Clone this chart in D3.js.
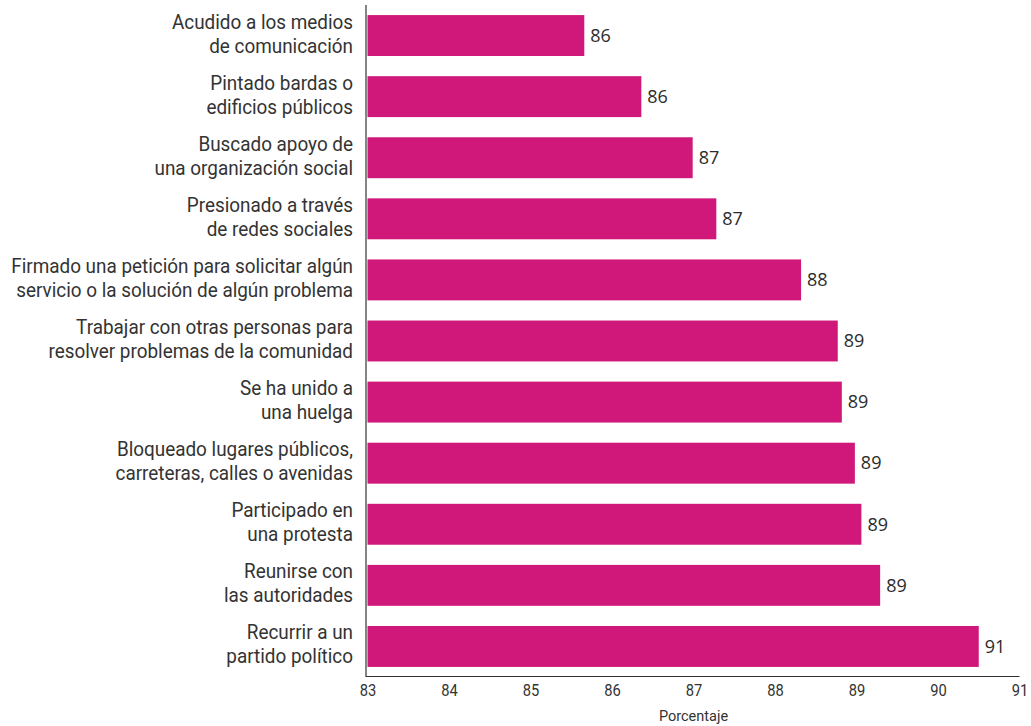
<!DOCTYPE html>
<html>
<head>
<meta charset="utf-8">
<script src="https://cdn.jsdelivr.net/npm/d3@7"></script>
<style>
  html, body { margin: 0; padding: 0; background: #fff; }
  svg { display: block; }
  .cat { font-family: Roboto, sans-serif; font-size: 20px; fill: #333; }
  .val { font-family: "Open Sans", sans-serif; font-size: 18px; fill: #2b2b2b; }
  .tick text { font-family: Roboto, sans-serif; font-size: 16px; fill: #333; }
  .xtitle { font-family: Roboto, sans-serif; font-size: 14.5px; fill: #333; }
</style>
</head>
<body>
<svg id="chart" width="1031" height="726"></svg>
<script>
// Actions, each split into the lines shown beside its bar
const categories = [
  ["Acudido a los medios", "de comunicación"],
  ["Pintado bardas o", "edificios públicos"],
  ["Buscado apoyo de", "una organización social"],
  ["Presionado a través", "de redes sociales"],
  ["Firmado una petición para solicitar algún", "servicio o la solución de algún problema"],
  ["Trabajar con otras personas para", "resolver problemas de la comunidad"],
  ["Se ha unido a", "una huelga"],
  ["Bloqueado lugares públicos,", "carreteras, calles o avenidas"],
  ["Participado en", "una protesta"],
  ["Reunirse con", "las autoridades"],
  ["Recurrir a un", "partido político"]
];

// Percentage for each action
const values = [85.66, 86.36, 86.99, 87.28, 88.32, 88.77, 88.82, 88.98, 89.06, 89.29, 90.5];

const xTicks = [83, 84, 85, 86, 87, 88, 89, 90, 91];
const xTitle = "Porcentaje";

const svg = d3.select("#chart");

const x = d3.scaleLinear().domain([83, 91]).range([367.5, 1019.5]);
const y = d3.scaleBand()
  .domain(d3.range(categories.length))
  .range([5, 677])
  .paddingInner(0.33)
  .paddingOuter(0.165);

const fmt = d3.format(".0f");

// Bars
svg.append("g").selectAll("rect")
  .data(values)
  .join("rect")
  .attr("x", x(83))
  .attr("y", (d, i) => y(i))
  .attr("width", d => x(d) - x(83))
  .attr("height", y.bandwidth())
  .attr("fill", "#d0187b");

// Value labels
svg.append("g").selectAll("text")
  .data(values)
  .join("text")
  .attr("class", "val")
  .attr("x", d => x(d) + 6)
  .attr("y", (d, i) => y(i) + y.bandwidth() / 2)
  .attr("dy", "0.35em")
  .text(d => fmt(d));

// Category labels (two lines, right aligned, slightly condensed)
const labelRight = 353;
const catG = svg.append("g")
  .attr("transform", `translate(${labelRight},0) scale(0.945,1)`);
const lineH = 24;
categories.forEach((lines, i) => {
  const cy = y(i) + y.bandwidth() / 2;
  const t = catG.append("text")
    .attr("class", "cat")
    .attr("text-anchor", "end");
  lines.forEach((ln, j) => {
    t.append("tspan")
      .attr("x", 0)
      .attr("y", cy + (j - (lines.length - 1) / 2) * lineH)
      .attr("dy", "0.25em")
      .text(ln);
  });
});

// Axes
svg.append("line")
  .attr("x1", 366).attr("x2", 366)
  .attr("y1", 5).attr("y2", 677)
  .attr("stroke", "#333").attr("stroke-width", 1.2);

const xAxis = d3.axisBottom(x).tickValues(xTicks).tickSize(0).tickPadding(8).tickFormat(d3.format("d"));
const gx = svg.append("g").attr("transform", "translate(0,676.5)").call(xAxis);
gx.select(".domain").attr("stroke", "#333").attr("stroke-width", 1.2)
  .attr("d", `M366,0H${x(91)}`);
gx.selectAll(".tick text").attr("transform", "scale(0.92,1)");

svg.append("text")
  .attr("class", "xtitle")
  .attr("x", (x(83) + x(91)) / 2)
  .attr("y", 721)
  .attr("text-anchor", "middle")
  .text(xTitle);
</script>
</body>
</html>
